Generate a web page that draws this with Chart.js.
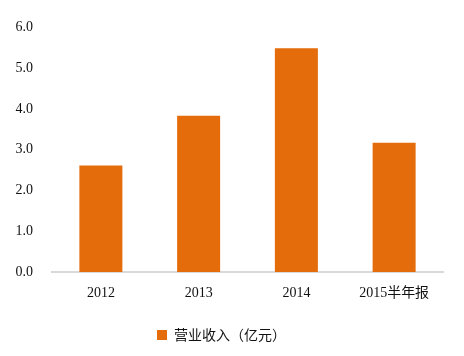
<!DOCTYPE html>
<html>
<head>
<meta charset="utf-8">
<script src="https://cdn.jsdelivr.net/npm/chart.js@4"></script>
<style>
html,body{margin:0;padding:0;background:#fff;}
#wrap{width:464px;height:356px;}
</style>
</head>
<body>
<div id="wrap"><canvas id="c" width="464" height="356"></canvas></div>
<script>
const categories = ['2012', '2013', '2014', '2015半年报'];
const revenue = [2.61, 3.83, 5.49, 3.17];
const seriesName = '营业收入（亿元）';
const yTicks = [0, 1, 2, 3, 4, 5, 6];

const serif = "'Liberation Serif', 'Times New Roman', 'Noto Sans CJK SC', serif";

new Chart(document.getElementById('c'), {
  type: 'bar',
  data: {
    labels: categories,
    datasets: [{
      label: seriesName,
      data: revenue,
      backgroundColor: '#E46C0A',
      borderWidth: 0,
      categoryPercentage: 1,
      barPercentage: 0.44
    }]
  },
  options: {
    responsive: false,
    animation: false,
    devicePixelRatio: 1,
    layout: { padding: { top: 25, right: 21, left: 0, bottom: 4 } },
    plugins: {
      tooltip: { enabled: false },
      legend: {
        position: 'bottom',
        labels: {
          boxWidth: 10,
          boxHeight: 10,
          padding: 14,
          color: '#111',
          font: { family: "'Noto Sans CJK SC', sans-serif", size: 14 }
        }
      }
    },
    scales: {
      x: {
        grid: { display: false, drawTicks: false },
        border: { display: true, color: '#d9d9d9', width: 2 },
        ticks: { color: '#111', padding: 13, font: { family: serif, size: 14 }, maxRotation: 0 },
        afterFit: s => { s.height = 42; }
      },
      y: {
        min: 0, max: 6,
        afterBuildTicks: s => { s.ticks = yTicks.map(v => ({ value: v })); },
        grid: { display: false, drawTicks: false },
        border: { display: false },
        ticks: {
          color: '#111', padding: 19,
          font: { family: serif, size: 14 },
          callback: v => Number(v).toFixed(1)
        },
        afterFit: s => { s.width = 52; }
      }
    }
  }
});
</script>
</body>
</html>
